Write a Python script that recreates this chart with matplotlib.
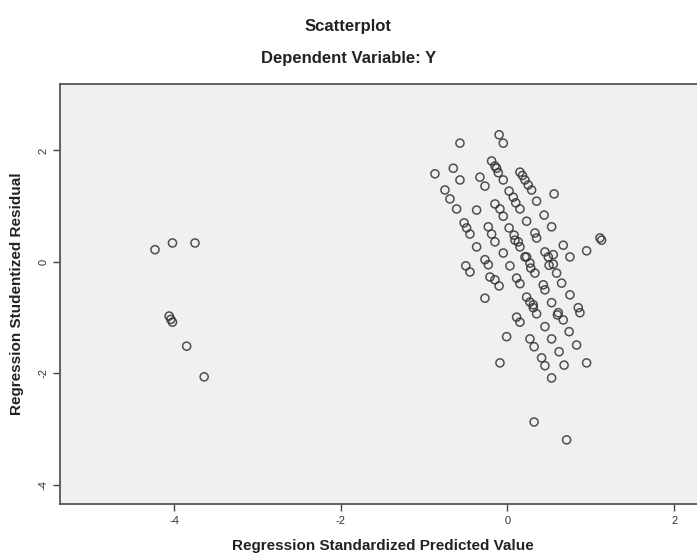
import numpy as np
import matplotlib
matplotlib.use('Agg')
import matplotlib.pyplot as plt

pred = [-4.23, -4.02, -3.75, -4.06, -4.02, -3.85, -3.64,
        -0.57, -0.10, -0.05, -0.87, -0.65, -0.57, -0.33, -0.27,
        -0.19, -0.15, -0.11, -0.05, 0.15, 0.21, 0.25, 0.29, 0.35, 0.56,
        -0.75, -0.69, -0.61, -0.37, 0.02, 0.07, 0.10, 0.15,
        -0.15, -0.09, -0.05, 0.44,
        -0.52, -0.49, -0.45, -0.23, -0.19, -0.15,
        0.02, 0.08, 0.13, 0.15, 0.23, 0.33, 0.35, 0.53,
        -0.37, -0.05, 0.23, 0.27, 0.28, 0.45, 0.49, 0.55, 0.67, 0.75, 0.95,
        1.11, 1.13,
        -0.27, -0.23, 0.03, -0.50, -0.45, -0.21, -0.15, -0.10,
        0.11, 0.15, 0.33, 0.43, 0.45, 0.59, 0.65, 0.75,
        -0.27, 0.23, 0.27, 0.31, 0.35, 0.53, 0.61, 0.67, 0.85, 0.87,
        0.11, 0.15, 0.45, 0.74,
        -0.01, 0.27, 0.32, 0.53, 0.62, 0.83,
        -0.09, 0.41, 0.45, 0.68, 0.95, 0.53,
        0.32, 0.71,
        0.09, 0.21, -0.13, 0.18, 0.31, 0.60, 0.50, 0.55, -4.04]
resid = [0.22, 0.34, 0.34, -0.97, -1.08, -1.51, -2.06,
         2.13, 2.28, 2.13, 1.58, 1.68, 1.47, 1.52, 1.36,
         1.81, 1.72, 1.60, 1.47, 1.61, 1.47, 1.38, 1.29, 1.09, 1.22,
         1.29, 1.13, 0.95, 0.93, 1.27, 1.16, 1.06, 0.95,
         1.04, 0.95, 0.82, 0.84,
         0.70, 0.61, 0.50, 0.63, 0.50, 0.36,
         0.61, 0.48, 0.36, 0.27, 0.73, 0.52, 0.43, 0.63,
         0.27, 0.16, 0.09, -0.02, -0.11, 0.18, 0.09, -0.04, 0.30, 0.09, 0.20,
         0.43, 0.39,
         0.04, -0.05, -0.07, -0.07, -0.18, -0.27, -0.32, -0.43,
         -0.29, -0.39, -0.20, -0.41, -0.50, -0.20, -0.38, -0.59,
         -0.65, -0.63, -0.72, -0.82, -0.93, -0.73, -0.91, -1.04, -0.82, -0.91,
         -0.99, -1.08, -1.16, -1.25,
         -1.34, -1.38, -1.52, -1.38, -1.61, -1.49,
         -1.81, -1.72, -1.86, -1.85, -1.81, -2.08,
         -2.87, -3.19,
         0.39, 0.09, 1.68, 1.55, -0.77, -0.95, -0.06, 0.13, -1.03]

xticks = [-4, -2, 0, 2]
yticks = [-4, -2, 0, 2]

plt.rcParams['font.family'] = ['Liberation Sans', 'DejaVu Sans']

fig = plt.figure(figsize=(6.97, 5.55), dpi=100)
ax = fig.add_axes([0.0861, 0.0919, 0.9139, 0.7567])
ax.set_facecolor('#f0f0f0')

ax.scatter(pred, resid, s=34, facecolors='none', edgecolors='#333333',
           linewidths=1.1, alpha=0.85, zorder=3)

ax.set_xlim(-5.37, 2.275)
ax.set_ylim(-4.34, 3.19)
ax.set_xticks(xticks)
ax.set_yticks(yticks)
ax.set_xticklabels([str(t) for t in xticks])
ax.set_yticklabels([str(t) for t in yticks], rotation=90, va='center')
ax.tick_params(direction='out', length=5, width=1, color='#444444',
               labelsize=8, labelcolor='#333333')

for side in ['left', 'bottom', 'top']:
    ax.spines[side].set_color('#555555')
    ax.spines[side].set_linewidth(1.3)
ax.spines['right'].set_visible(False)

ax.set_ylabel('Regression Studentized Residual', fontsize=11,
              fontweight='bold', color='#222222', labelpad=10)

fig.text(0.5, 1 - 27 / 555, 'Scatterplot', ha='center', va='center',
         fontsize=12, fontweight='bold', color='#222222')
fig.text(0.5, 1 - 59 / 555, 'Dependent Variable: Y', ha='center', va='center',
         fontsize=12, fontweight='bold', color='#222222')
fig.text(383 / 697, 1 - 546 / 555, 'Regression Standardized Predicted Value',
         ha='center', va='center', fontsize=11, fontweight='bold',
         color='#222222')

fig.savefig('out.png', dpi=100)
